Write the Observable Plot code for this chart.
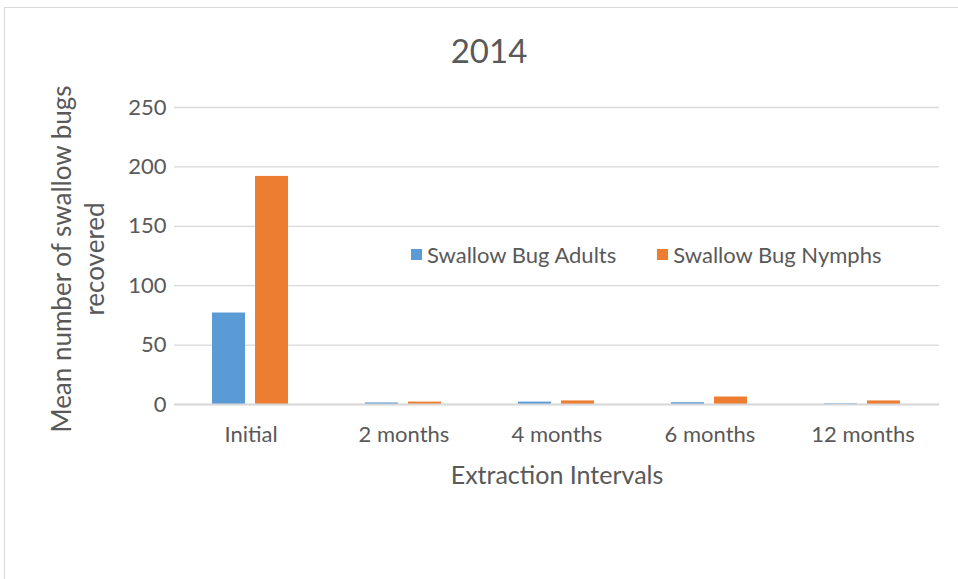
<!DOCTYPE html>
<html><head><meta charset="utf-8">
<script src="https://cdn.jsdelivr.net/npm/d3@7"></script>
<script src="https://cdn.jsdelivr.net/npm/@observablehq/plot@0.6"></script>
<style>
body{margin:0;background:#fff;font-family:Lato,sans-serif;}
#wrap{position:relative;width:958px;height:579px;overflow:hidden;background:#fff;}
#frame{position:absolute;left:4px;top:7px;width:1100px;height:1100px;border-left:1px solid #d9d9d9;border-top:1px solid #d9d9d9;}
#chart{position:absolute;left:0;top:0;}
.lbl{position:absolute;color:#595959;white-space:nowrap;transform:translate(-50%,-50%);}
#title{left:489px;top:50px;font-size:33px;}
#xtitle{left:557px;top:474px;font-size:25px;}
#ytitle{left:78px;top:259px;font-size:26px;text-align:center;line-height:33px;transform:translate(-50%,-50%) rotate(-90deg);}
#legend{position:absolute;left:411px;top:241px;display:flex;align-items:center;font-size:22px;color:#595959;}
.item{display:flex;align-items:center;margin-right:41px;}
.sw{width:11px;height:11px;margin-right:5px;}
</style>
</head><body>
<div id="wrap">
  <div id="frame"></div>
  <div id="chart"></div>
  <div class="lbl" id="title"></div>
  <div class="lbl" id="xtitle"></div>
  <div class="lbl" id="ytitle"></div>
  <div id="legend"></div>
</div>
<script>
const categories = ["Initial", "2 months", "4 months", "6 months", "12 months"];
const series = ["Swallow Bug Adults", "Swallow Bug Nymphs"];
const adults = [77, 1.3, 2, 1.5, 0.6];
const nymphs = [192, 2, 3, 6.3, 3];
const yTicks = [0, 50, 100, 150, 200, 250];
const colors = ["#5B9BD5", "#ED7D31"];
const titleText = "2014";
const xTitle = "Extraction Intervals";
const yTitleLines = ["Mean number of swallow bugs", "recovered"];

const data = [];
categories.forEach((c, i) => {
  data.push({category: c, series: series[0], value: adults[i]});
  data.push({category: c, series: series[1], value: nymphs[i]});
});

const chart = Plot.plot({
  width: 958,
  height: 579,
  marginLeft: 173,
  marginRight: 18,
  marginTop: 107,
  marginBottom: 175,
  style: {fontFamily: "Lato, sans-serif", fontSize: "22px", color: "#595959", background: "transparent"},
  fx: {domain: categories, paddingInner: 0, paddingOuter: 0, label: null},
  x: {domain: series, paddingInner: 10 / 44, paddingOuter: 0.857, axis: null},
  y: {domain: [0, 250], label: null},
  color: {domain: series, range: colors},
  marks: [
    Plot.gridY(yTicks, {stroke: "#d9d9d9", strokeOpacity: 1, strokeWidth: 1.3}),
    Plot.barY(data, {fx: "category", x: "series", y: "value", fill: "series"}),
    Plot.ruleY([0], {stroke: "#d9d9d9", strokeWidth: 2}),
    Plot.axisY(yTicks, {tickSize: 0, tickPadding: 8, label: null, fontSize: 22}),
    Plot.axisFx({anchor: "bottom", tickSize: 0, tickPadding: 22, label: null, fontSize: 22})
  ]
});
document.getElementById("chart").appendChild(chart);

document.getElementById("title").textContent = titleText;
document.getElementById("xtitle").textContent = xTitle;
document.getElementById("ytitle").innerHTML = yTitleLines.join("<br>");
const legend = document.getElementById("legend");
series.forEach((s, i) => {
  const item = document.createElement("div");
  item.className = "item";
  const sw = document.createElement("div");
  sw.className = "sw";
  sw.style.background = colors[i];
  const t = document.createElement("span");
  t.textContent = s;
  item.appendChild(sw);
  item.appendChild(t);
  legend.appendChild(item);
});
</script>
</body></html>
